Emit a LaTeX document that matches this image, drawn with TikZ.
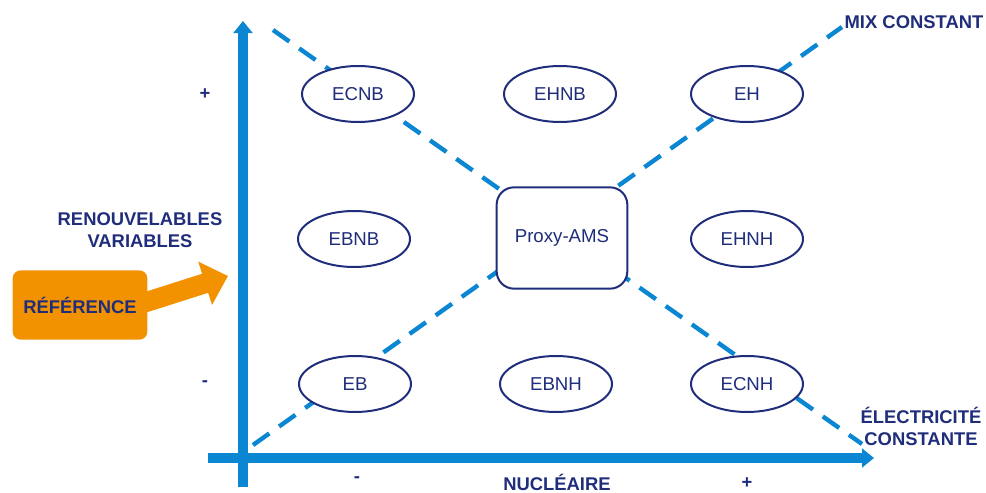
\documentclass[tikz,border=0pt]{standalone}
\usepackage{fontspec}
\setmainfont{Liberation Sans}
\usetikzlibrary{arrows.meta,shapes.geometric}
\definecolor{navy}{RGB}{31,45,122}
\definecolor{axisblue}{RGB}{10,134,210}
\definecolor{refcolor}{RGB}{243,146,0}
\begin{document}
\begin{tikzpicture}[x=0.75pt,y=-0.75pt,
        scenario/.style={ellipse,draw=navy,line width=1.5pt,fill=white,text=navy,
            minimum width=84pt,minimum height=42pt,inner sep=0pt,font=\fontsize{14}{16}\selectfont},
        axislabel/.style={text=navy,font=\bfseries\fontsize{13.8}{16.5}\selectfont,align=center,inner sep=0pt},
        diag/.style={axisblue,line width=3.3pt,dash pattern=on 15pt off 9pt},
        axisline/.style={axisblue,line width=7pt,-{Triangle[width=14pt,length=9pt]}}]
    \useasboundingbox (0,0) rectangle (986,493);
    %% Axes
    \coordinate (vbot) at (243,487);
    \coordinate (vtop) at (243,21);
    \coordinate (hleft) at (208,458);
    \coordinate (hright) at (874,458);
    \draw[axisline] (vbot) -- (vtop);
    \draw[axisline] (hleft) -- (hright);
    %% Diagonals
    \coordinate (d1a) at (273,30);
    \coordinate (d1b) at (862,444);
    \coordinate (d2a) at (253,445);
    \coordinate (d2b) at (842,27);
    \draw[diag] (d1a) -- (d1b);
    \draw[diag] (d2a) -- (d2b);
    %% Scenarios
    \node[scenario] (ecnb) at (358,94) {ECNB};
    \node[scenario] (ehnb) at (560,94) {EHNB};
    \node[scenario] (eh) at (747,94) {EH};
    \node[scenario] (ebnb) at (354,239) {EBNB};
    \node[scenario] (ehnh) at (747,239) {EHNH};
    \node[scenario] (eb) at (355,384) {EB};
    \node[scenario] (ebnh) at (556,384) {EBNH};
    \node[scenario] (ecnh) at (747,384) {ECNH};
    \node[draw=navy,line width=1.5pt,fill=white,text=navy,rounded corners=13pt,
        minimum width=98pt,minimum height=76pt,font=\fontsize{14}{16}\selectfont]
        (proxy) at (562,238) {Proxy-AMS};
    %% Reference
    \node[fill=refcolor,rounded corners=6pt,minimum width=101pt,minimum height=52pt,
        text=navy,font=\bfseries\fontsize{13.8}{16}\selectfont] (ref) at (80,305) {RÉFÉRENCE};
    \coordinate (reftip) at (228,276);
    \draw[refcolor,line width=15pt,-{Triangle[width=33pt,length=18pt]}]
        ([xshift=-8pt]ref.east) -- (reftip);
    %% Labels
    \node[axislabel] (renouv) at (140,230) {RENOUVELABLES\\VARIABLES};
    \node[axislabel] (mix) at (914,22) {MIX CONSTANT};
    \node[axislabel] (elec) at (921,426) {ÉLECTRICITÉ\\CONSTANTE};
    \node[axislabel] (nucl) at (557,482) {NUCLÉAIRE};
    \node[axislabel] (vplus) at (205,94) {+};
    \node[axislabel] (vminus) at (205,384) {-};
    \node[axislabel] (hminus) at (357,480) {-};
    \node[axislabel] (hplus) at (747,483) {+};
\end{tikzpicture}
\end{document}
